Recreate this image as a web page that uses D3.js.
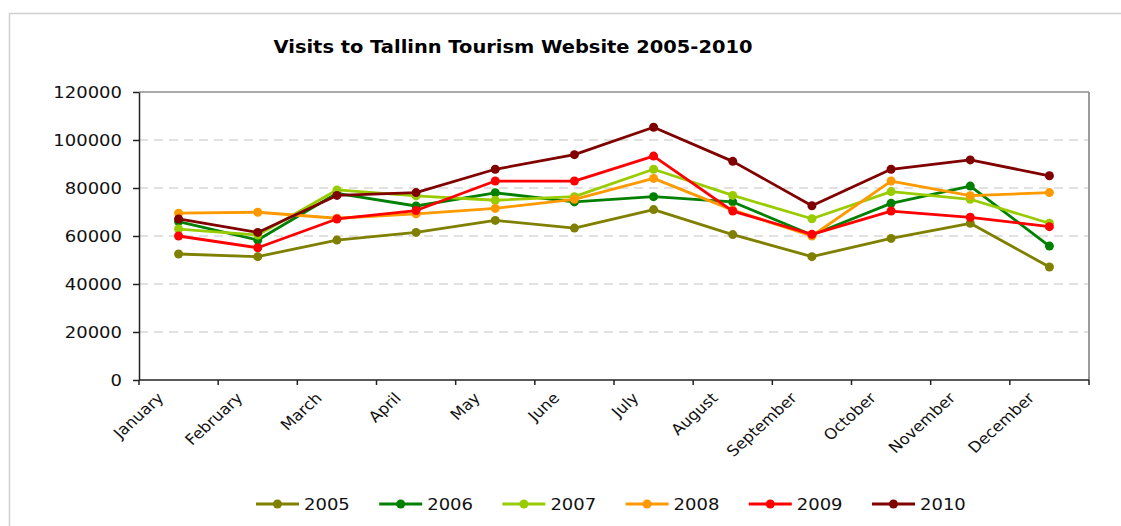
<!DOCTYPE html>
<html>
<head>
<meta charset="utf-8">
<script src="https://cdn.jsdelivr.net/npm/d3@7"></script>
<style>
  html, body { margin: 0; padding: 0; background: #fff; }
  svg { display: block; font-family: "DejaVu Sans", Verdana, sans-serif; }
</style>
</head>
<body>
<svg id="chart" width="1121" height="526"></svg>
<script>
// Monthly visits to the Tallinn tourism website, one array per year
const months = ["January", "February", "March", "April", "May", "June",
                "July", "August", "September", "October", "November", "December"];
const years = ["2005", "2006", "2007", "2008", "2009", "2010"];
const colors = ["#808000", "#008000", "#99cc00", "#ff9900", "#ff0000", "#800000"];

const v2005 = [52500, 51400, 58300, 61500, 66500, 63300, 71000, 60600, 51400, 59000, 65300, 47100];
const v2006 = [66000, 58300, 77800, 72500, 78000, 74200, 76400, 74200, 60400, 73600, 80800, 55800];
const v2007 = [62900, 60400, 79200, 76700, 74900, 76400, 87800, 76900, 67200, 78500, 75300, 65300];
const v2008 = [69500, 69900, 67400, 69200, 71500, 75300, 84000, 70800, 60000, 82900, 76800, 78100];
const v2009 = [60000, 55100, 67100, 70600, 82900, 82900, 93300, 70400, 60700, 70400, 67800, 63900];
const v2010 = [67100, 61500, 76900, 78100, 87800, 93900, 105300, 91100, 72600, 87800, 91700, 85100];
const yTicks = [0, 20000, 40000, 60000, 80000, 100000, 120000];

const seriesValues = [v2005, v2006, v2007, v2008, v2009, v2010];
const series = years.map((y, i) => ({ name: y, color: colors[i], values: seriesValues[i] }));

const svg = d3.select("#chart");
const STRETCH = 1.2;   // wide text rendering

// outer chart frame
svg.append("rect")
  .attr("x", 9.5).attr("y", 13.5)
  .attr("width", 1130).attr("height", 540)
  .attr("fill", "none").attr("stroke", "#d0d0d0").attr("stroke-width", 1.5);

const plot = { left: 139, top: 92, right: 1089, bottom: 380 };

const x = d3.scaleBand().domain(months).range([plot.left, plot.right]).padding(0);
const y = d3.scaleLinear().domain([0, 120000]).range([plot.bottom, plot.top]);

// title
svg.append("text")
  .attr("transform", `translate(513,53) scale(1.08,1)`)
  .attr("text-anchor", "middle")
  .attr("font-size", 18).attr("font-weight", "bold").attr("fill", "#000")
  .text("Visits to Tallinn Tourism Website 2005-2010");

// dashed gridlines
svg.append("g")
  .selectAll("line")
  .data(yTicks.filter(t => t > 0 && t < 120000))
  .join("line")
  .attr("x1", plot.left).attr("x2", plot.right)
  .attr("y1", d => y(d)).attr("y2", d => y(d))
  .attr("stroke", "#c4c4c4").attr("stroke-width", 1)
  .attr("stroke-dasharray", "9,6");

// plot area frame top and right
svg.append("line")
  .attr("x1", plot.left).attr("x2", plot.right)
  .attr("y1", plot.top).attr("y2", plot.top)
  .attr("stroke", "#8c8c8c").attr("stroke-width", 1.5);
svg.append("line")
  .attr("x1", plot.right).attr("x2", plot.right)
  .attr("y1", plot.top).attr("y2", plot.bottom)
  .attr("stroke", "#9a9a9a").attr("stroke-width", 2);

// y axis
const yAxis = svg.append("g")
  .attr("transform", `translate(${plot.left},0)`)
  .call(d3.axisLeft(y).tickValues(yTicks).tickFormat(d3.format("d")).tickSize(6).tickSizeOuter(0));
yAxis.select(".domain").attr("stroke", "#222").attr("stroke-width", 1.5);
yAxis.selectAll(".tick line").attr("stroke", "#222").attr("stroke-width", 1.5);
yAxis.selectAll(".tick text")
  .attr("x", 0).attr("dy", "0.36em")
  .attr("transform", `translate(-17,0) scale(${STRETCH},1)`)
  .attr("font-size", 15).attr("fill", "#111")
  .attr("font-family", "DejaVu Sans, Verdana, sans-serif");

// x axis with ticks on category boundaries
const xAxis = svg.append("g").attr("transform", `translate(0,${plot.bottom})`);
xAxis.append("line")
  .attr("x1", plot.left).attr("x2", plot.right)
  .attr("stroke", "#222").attr("stroke-width", 1.5);
const bounds = months.map(m => x(m)).concat([x(months[months.length - 1]) + x.bandwidth()]);
xAxis.selectAll("line.tick")
  .data(bounds)
  .join("line").attr("class", "tick")
  .attr("x1", d => d).attr("x2", d => d)
  .attr("y1", 0).attr("y2", 5)
  .attr("stroke", "#222").attr("stroke-width", 1.5);
xAxis.selectAll("text")
  .data(months)
  .join("text")
  .attr("transform", d => `translate(${x(d) + x.bandwidth() / 2 - 14},${19}) scale(1.1,1) rotate(-45)`)
  .attr("text-anchor", "end")
  .attr("font-size", 15).attr("fill", "#111")
  .text(d => d);

// series lines and markers
const line = d3.line()
  .x((d, i) => x(months[i]) + x.bandwidth() / 2)
  .y(d => y(d));

const sg = svg.append("g").selectAll("g").data(series).join("g");
sg.append("path")
  .attr("d", d => line(d.values))
  .attr("fill", "none")
  .attr("stroke", d => d.color)
  .attr("stroke-width", 2.8)
  .attr("stroke-linejoin", "round");
sg.selectAll("circle")
  .data(d => d.values.map((v, i) => ({ v, i, color: d.color })))
  .join("circle")
  .attr("cx", d => x(months[d.i]) + x.bandwidth() / 2)
  .attr("cy", d => y(d.v))
  .attr("r", 4.5)
  .attr("fill", d => d.color);

// legend
const legend = svg.append("g").attr("transform", "translate(256,504)");
const li = legend.selectAll("g").data(series).join("g")
  .attr("transform", (d, i) => `translate(${i * 123.2},0)`);
li.append("line")
  .attr("x1", 0).attr("x2", 43)
  .attr("stroke", d => d.color).attr("stroke-width", 2.8);
li.append("circle").attr("cx", 21.5).attr("r", 4.5).attr("fill", d => d.color);
li.append("text")
  .attr("transform", `translate(48,6) scale(${STRETCH},1)`)
  .attr("font-size", 15).attr("fill", "#111")
  .text(d => d.name);
</script>
</body>
</html>
